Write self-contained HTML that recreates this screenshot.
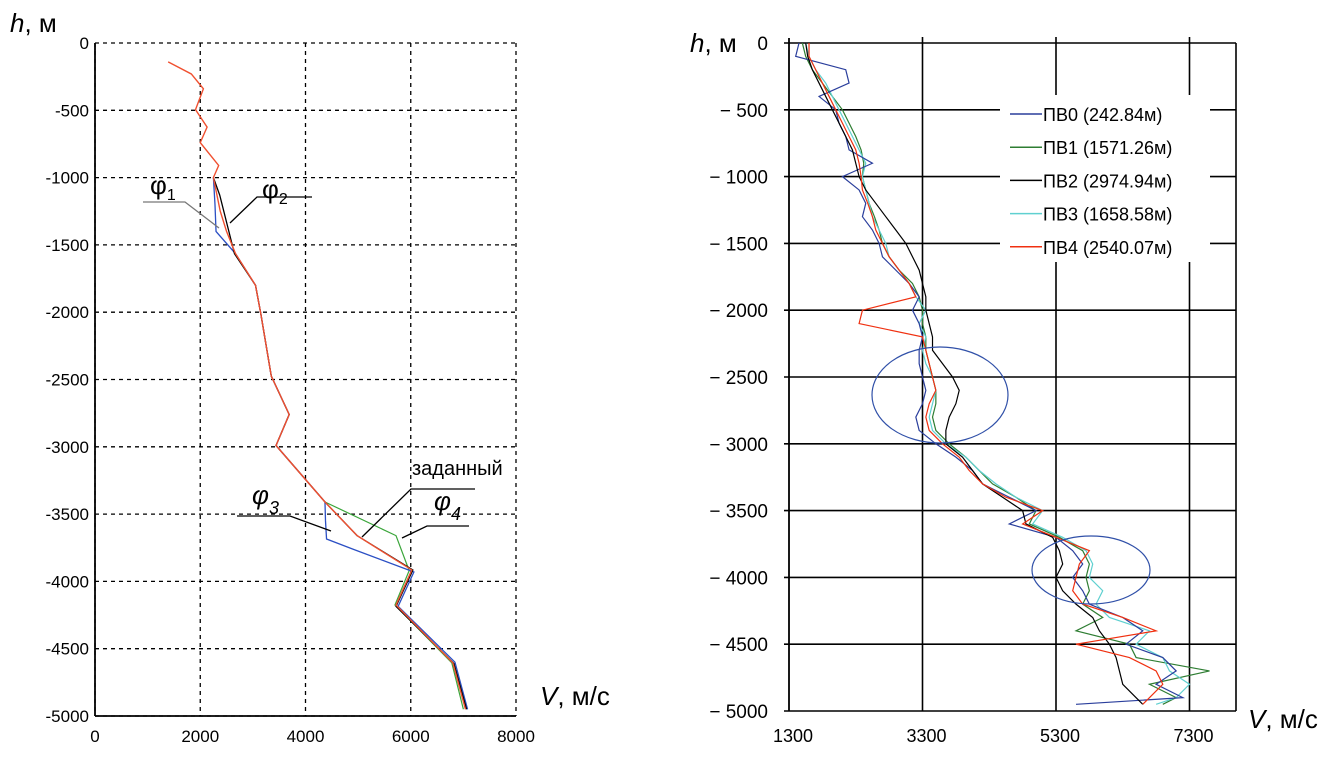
<!DOCTYPE html>
<html><head><meta charset="utf-8">
<style>
body{margin:0;background:#fff;}
svg{display:block;font-family:"Liberation Sans",Arial,sans-serif;}
</style></head>
<body>
<svg id="chart" width="1328" height="759" viewBox="0 0 1328 759">
<rect x="0" y="0" width="1328" height="759" fill="#fff"/>
<g id="left"></g>
<g id="right"></g>
</svg>
<script>
// ---------- LEFT CHART DATA ----------
const leftXTicks = [0, 2000, 4000, 6000, 8000];
const leftYTicks = [0, -500, -1000, -1500, -2000, -2500, -3000, -3500, -4000, -4500, -5000];
const leftRedV = [1390,1830,2060,1910,2130,2000,2350,2250,2380,2500,2670,3050,3150,3350,3690,3440,4370,4980,6020,5720,6800,7040];
const leftRedH = [-140,-230,-340,-495,-625,-740,-910,-1000,-1250,-1400,-1565,-1800,-2010,-2475,-2760,-2990,-3410,-3660,-3915,-4175,-4605,-4950];
const leftBlueV = [2250,2280,2300,2670,3050,3150,3350,3690,3440,4370,4380,4400,4900,6060,5760,6840,7080];
const leftBlueH = [-1000,-1200,-1400,-1565,-1800,-2010,-2475,-2760,-2990,-3410,-3550,-3685,-3760,-3930,-4185,-4600,-4950];
const leftGreenV = [4370,5720,5970,5700,6780,7000];
const leftGreenH = [-3410,-3660,-3920,-4175,-4605,-4950];
const leftBlackV = [2250,2370,2650,3050,3150,3350,3690,3440,4370,4980,6040,5720,6820,7060];
const leftBlackH = [-1000,-1130,-1565,-1800,-2010,-2475,-2760,-2990,-3410,-3660,-3915,-4185,-4610,-4950];

// ---------- RIGHT CHART DATA ----------
const rightXTicks = [1300, 3300, 5300, 7300];
const rightYTicks = [0, -500, -1000, -1500, -2000, -2500, -3000, -3500, -4000, -4500, -5000];
const depths = [0,-100,-200,-300,-400,-500,-600,-700,-800,-900,-1000,-1100,-1200,-1300,-1400,-1500,-1600,-1700,-1800,-1900,-2000,-2100,-2200,-2300,-2400,-2500,-2600,-2700,-2800,-2900,-3000,-3100,-3200,-3300,-3400,-3500,-3600,-3700,-3800,-3900,-4000,-4100,-4200,-4300,-4400,-4500,-4600,-4700,-4800,-4900,-4950];
const pv0 = [1450,1400,2150,2200,1750,2000,2050,2150,2200,2550,2100,2350,2450,2400,2550,2650,2700,2900,3100,3250,3150,3250,3300,3250,3250,3300,3350,3300,3200,3250,3500,3800,4050,4200,4600,5000,4600,5300,5550,5700,5550,5700,5800,6300,6600,6350,6900,7100,6800,7200,5600];
const pv1 = [1500,1550,1650,1800,1950,2100,2200,2300,2380,2420,2400,2450,2500,2580,2650,2700,2800,2950,3150,3250,3300,3300,3350,3350,3400,3450,3500,3500,3450,3500,3700,3950,4150,4350,4700,5000,4900,5350,5700,5800,5750,5800,5700,6000,5600,6400,6500,7600,6700,7100,6900];
const pv2 = [1550,1580,1650,1750,1850,1950,2050,2150,2250,2300,2350,2450,2600,2750,2900,3050,3150,3250,3300,3350,3350,3400,3450,3450,3600,3750,3850,3800,3700,3650,3650,3900,4050,4200,4500,4800,4850,5250,5350,5400,5300,5400,5600,5850,5950,6100,6200,6250,6300,6500,6600];
const pv3 = [1550,1600,1700,1850,1950,2050,2150,2250,2350,2450,2400,2450,2500,2550,2650,2750,2800,2950,3100,3200,3350,3250,3350,3300,3350,3450,3500,3450,3400,3450,3650,3950,4150,4400,4700,5100,4950,5400,5750,5850,5800,6000,5900,6100,6700,6500,6900,7000,7300,7100,6800];
const pv4 = [1600,1600,1700,1800,1900,2000,2100,2200,2300,2350,2380,2400,2480,2550,2600,2700,2800,2950,3100,3200,2400,2350,3300,3350,3400,3450,3500,3400,3350,3400,3600,3850,4000,4200,4550,5100,4800,5300,5800,5650,5600,5550,5700,6300,6800,5600,6400,6800,6900,6700,6600];
const legendLabels = ["ПВ0 (242.84м)","ПВ1 (1571.26м)","ПВ2 (2974.94м)","ПВ3 (1658.58м)","ПВ4 (2540.07м)"];

const NS = "http://www.w3.org/2000/svg";
function mk(parent, tag, attrs){
  const e = document.createElementNS(NS, tag);
  for (const k in attrs) e.setAttribute(k, attrs[k]);
  parent.appendChild(e);
  return e;
}

// ---------- LEFT ----------
const L = document.getElementById('left');
const lx = v => 95 + v * (421/8000);
const ly = h => 43 + (-h) * (673/5000);
leftXTicks.forEach(t => {
  const g = mk(L,'line',{x1:lx(t),x2:lx(t),y1:ly(0),y2:ly(-5000),stroke:'#000','stroke-width':1.3,'stroke-dasharray':'4,4'});
  
  
  const tx = mk(L,'text',{x:lx(t),y:742,'font-size':17,'text-anchor':'middle',fill:'#000'});
  tx.textContent = t;
  
  
});
leftYTicks.forEach(t => {
  const g = mk(L,'line',{x1:lx(0),x2:lx(8000),y1:ly(t),y2:ly(t),stroke:'#000','stroke-width':1.3,'stroke-dasharray':'4,4'});
  
  
  const tx = mk(L,'text',{x:89,y:ly(t)+6,'font-size':17,'text-anchor':'end',fill:'#000'});
  tx.textContent = t;
  
  
});
const la1 = mk(L,'line',{x1:lx(0),x2:lx(0),y1:ly(0),y2:ly(-5000),stroke:'#000','stroke-width':1.8});


const la2 = mk(L,'line',{x1:lx(0),x2:lx(8000),y1:ly(-5000),y2:ly(-5000),stroke:'#000','stroke-width':1.8});



function lpath(V,H,color,name,w){
  const p = mk(L,'polyline',{points:V.map((v,i)=>lx(v)+','+ly(H[i])).join(' '),fill:'none',stroke:color,'stroke-width':w});
  
  
}
lpath(leftGreenV,leftGreenH,'#3aa53a','left-series-phi4',1.2);
lpath(leftBlueV,leftBlueH,'#2b4fc4','left-series-phi1-phi3',1.3);
lpath(leftBlackV,leftBlackH,'#000','left-series-phi2',1.3);
lpath(leftRedV,leftRedH,'#f05030','left-series-given',1.4);

// annotation leaders
[[[143,202],[185,202],[219,228],'phi1-leader','#777'],[[312,197],[257,197],[230,223],'phi2-leader','#000'],
 [[237,516],[290,516],[331,531],'phi3-leader','#000'],[[475,489],[411,489],[362,537],'given-leader','#000'],
 [[469,526],[427,526],[402,538],'phi4-leader','#000']].forEach(a=>{
  const p = mk(L,'polyline',{points:a.slice(0,3).map(q=>q.join(',')).join(' '),fill:'none',stroke:a[4],'stroke-width':1.3});
  
  
});
</script>
<script>
// static left labels
(function(){
const L = document.getElementById('left');
L.insertAdjacentHTML('beforeend',
 '<text x="10" y="32" font-size="26"><tspan font-style="italic">h</tspan>, м</text>'+
 '<text x="540" y="705" font-size="26"><tspan font-style="italic">V</tspan>, м/с</text>'+
 '<text x="150" y="194" font-size="26">φ<tspan font-size="16" dy="6">1</tspan></text>'+
 '<text x="262" y="198" font-size="26">φ<tspan font-size="16" dy="6">2</tspan></text>'+
 '<text x="252" y="504" font-size="26" font-style="italic">φ<tspan font-size="18" dy="10">3</tspan></text>'+
 '<text x="434" y="510" font-size="26" font-style="italic">φ<tspan font-size="18" dy="10">4</tspan></text>'+
 '<text x="412" y="475" font-size="20">заданный</text>');
})();

// ---------- RIGHT ----------
const R = document.getElementById('right');
const rx = v => 789 + (v-1300) * (133.5/2000);
const ry = h => 43 + (-h) * (668/5000);
const rRight = 1236;
// grid
rightXTicks.forEach((t,i) => {
  if (i>0){
    const g = mk(R,'line',{x1:rx(t),x2:rx(t),y1:ry(0)-6,y2:ry(-5000),stroke:'#000','stroke-width':1.6});
    
    
  }
  const tx = mk(R,'text',{x:rx(t)+4,y:742,'font-size':18,'text-anchor':'middle',fill:'#000'});
  tx.textContent = t;
  
  
});
rightYTicks.forEach(t => {
  const g = mk(R,'line',{x1:rx(1300)-5,x2:rRight,y1:ry(t),y2:ry(t),stroke:'#000','stroke-width':1.6});
  
  
  const tx = mk(R,'text',{x:768,y:ry(t)+7,'font-size':19,'text-anchor':'end',fill:'#000'});
  tx.textContent = t===0 ? '0' : '− ' + (-t);
  
  
});
const ra = mk(R,'line',{x1:rx(1300),x2:rx(1300),y1:ry(0)-5,y2:ry(-5000),stroke:'#000','stroke-width':1.8});


const rb = mk(R,'line',{x1:rRight,x2:rRight,y1:ry(0),y2:ry(-5000),stroke:'#000','stroke-width':1.6});


// legend background
const lg = mk(R,'rect',{x:1000,y:95,width:210,height:167,fill:'#fff'});



const series = [pv0,pv1,pv2,pv3,pv4];
const colors = ['#2a3e9c','#2e7d32','#000','#5fd0d0','#f03010'];
const snames = ['series-pv0','series-pv1','series-pv2','series-pv3','series-pv4'];
[1,3,0,2,4].forEach(k => {
  const s = series[k];
  const pts = [];
  s.forEach((v,i) => { pts.push(rx(v)+','+ry(depths[i])); });
  const p = mk(R,'polyline',{points:pts.join(' '),fill:'none',stroke:colors[k],'stroke-width':1.2});
  
  
});
// ellipses
const e1 = mk(R,'ellipse',{cx:940,cy:395,rx:68,ry:48,fill:'none',stroke:'#3050a8','stroke-width':1.2});


const e2 = mk(R,'ellipse',{cx:1091,cy:570,rx:59,ry:34,fill:'none',stroke:'#3050a8','stroke-width':1.2});


// legend
legendLabels.forEach((lab,i) => {
  const y = 114 + i*33.2;
  const ln = mk(R,'line',{x1:1010,x2:1042,y1:y,y2:y,stroke:colors[i],'stroke-width':1.5});
  
  
  const t = mk(R,'text',{x:1043,y:y+7,'font-size':18,fill:'#000'});
  t.textContent = lab;
  
  
});
R.insertAdjacentHTML('beforeend',
 '<text x="690" y="52" font-size="26"><tspan font-style="italic">h</tspan>, м</text>'+
 '<text x="1248" y="728" font-size="26"><tspan font-style="italic">V</tspan>, м/с</text>');
</script>
</body></html>
